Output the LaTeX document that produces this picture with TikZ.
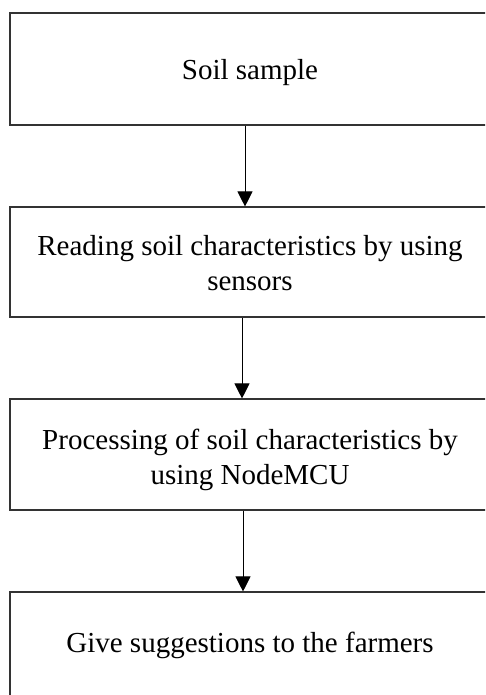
\documentclass[tikz,border=0pt]{standalone}
\usepackage{fontspec}
\setmainfont{Liberation Serif}
\usetikzlibrary{arrows.meta}
\begin{document}
\begin{tikzpicture}[x=1pt,y=-1pt,
  stepbox/.style={draw=black!80, line width=1.1pt, minimum width=480pt,
    inner sep=0pt, align=center, font=\fontsize{29}{35}\selectfont},
  flow/.style={-{Triangle[width=15pt,length=15pt]}, line width=0.9pt}]
\useasboundingbox (0,0) rectangle (485,695);
\clip (0,0) rectangle (485,695);
% process steps
\node[stepbox, minimum height=112pt, text height=24pt, text depth=2pt] (b1) at (250,69) {Soil sample};
\node[stepbox, minimum height=110pt, text height=59pt, text depth=3pt] (b2) at (250,262) {Reading soil characteristics by using\\sensors};
\node[stepbox, minimum height=111pt, text height=60.5pt, text depth=1.5pt] (b3) at (250,454.5) {Processing of soil characteristics by\\using NodeMCU};
\node[stepbox, minimum height=118pt, text height=20pt, text depth=18pt] (b4) at (250,651) {Give suggestions to the farmers};
% connectors
\draw[flow] ([xshift=-5pt]b1.south) -- ([xshift=-5pt]b2.north);
\draw[flow] ([xshift=-8pt]b2.south) -- ([xshift=-8pt]b3.north);
\draw[flow] ([xshift=-7pt]b3.south) -- ([xshift=-7pt]b4.north);
\end{tikzpicture}
\end{document}
